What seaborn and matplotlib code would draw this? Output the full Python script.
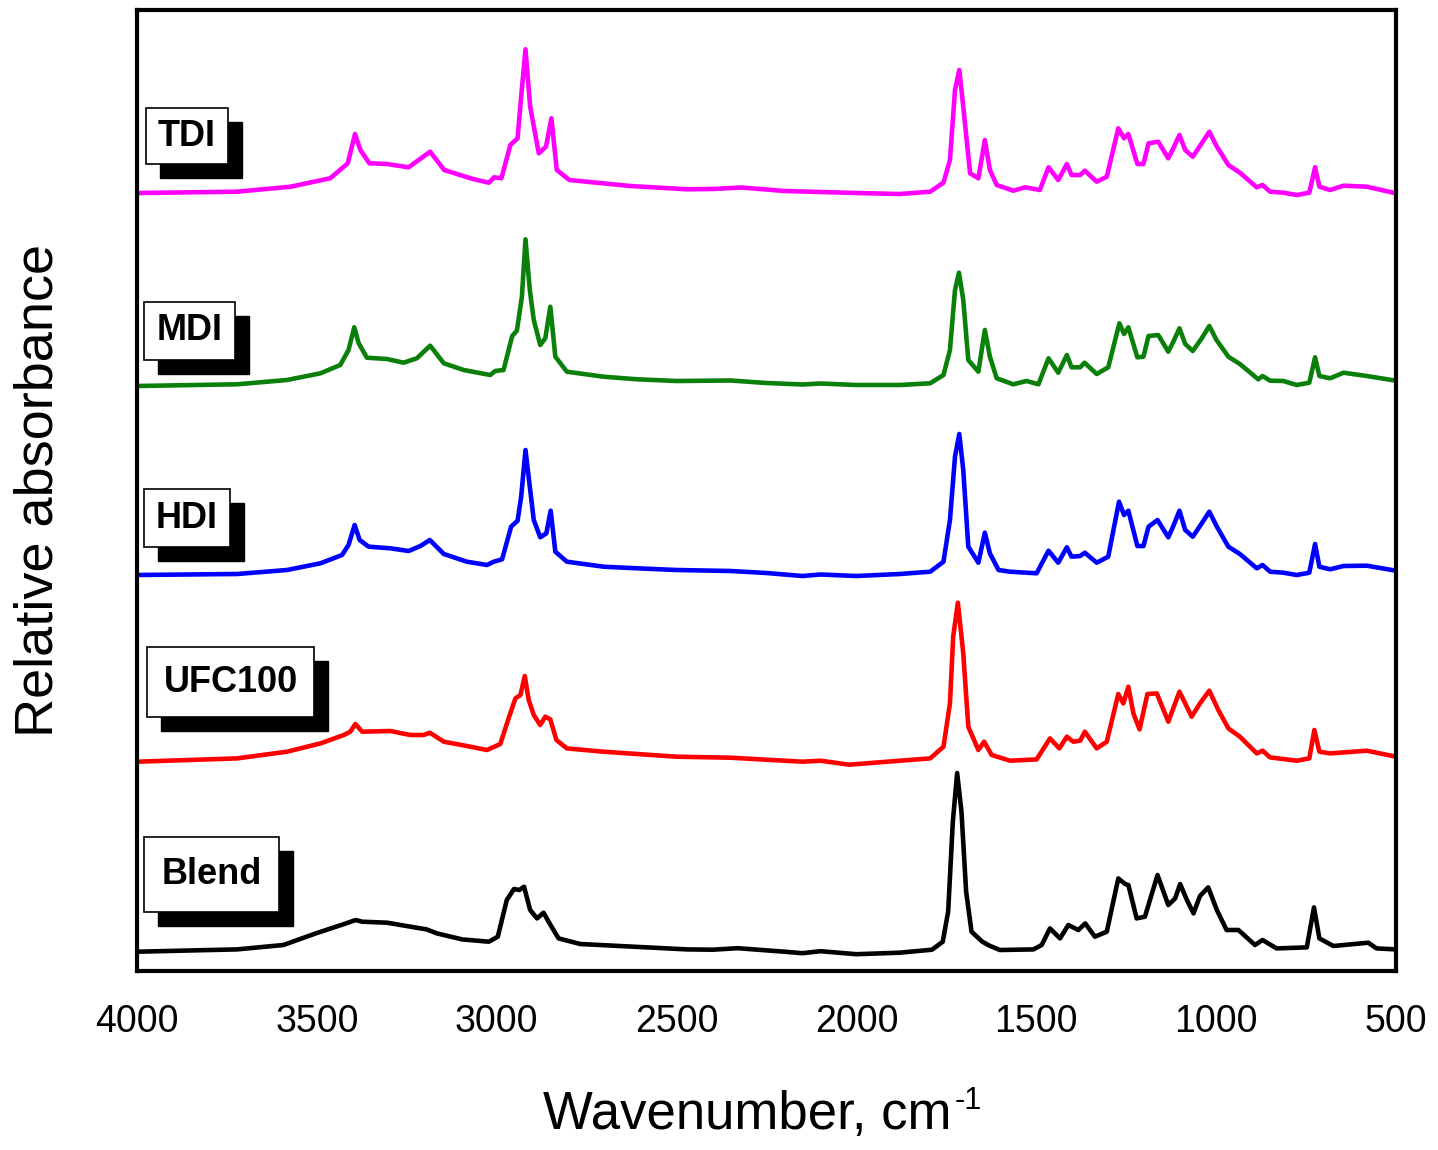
import numpy as np
import pandas as pd
import matplotlib
matplotlib.use("Agg")
import matplotlib.pyplot as plt
from matplotlib.patches import Rectangle
import seaborn as sns

# spectra: wavenumber (cm-1) and relative absorbance above each trace's baseline
wn_tdi = [4000, 3722, 3573, 3463, 3414, 3394, 3379, 3354, 3305, 3245, 3185, 3146, 3066, 3022, 3007, 2987,
          2962, 2942, 2932, 2920, 2907, 2883, 2863, 2848, 2833, 2798, 2629, 2471, 2400, 2320, 2200, 2100,
          2000, 1879, 1795, 1758, 1740, 1726, 1714, 1703, 1684, 1661, 1643, 1629, 1610, 1564, 1531, 1490,
          1466, 1439, 1415, 1402, 1378, 1365, 1332, 1304, 1272, 1256, 1244, 1219, 1202, 1188, 1161, 1133,
          1119, 1102, 1086, 1065, 1040, 1019, 999, 966, 934, 887, 871, 850, 813, 776, 741, 725, 713, 683,
          646, 581, 500]
abs_tdi = [0, 0.013, 0.063, 0.147, 0.297, 0.59, 0.43, 0.297, 0.29, 0.257, 0.413, 0.23, 0.14, 0.103, 0.157, 0.147,
           0.48, 0.547, 0.963, 1.437, 0.863, 0.397, 0.463, 0.747, 0.23, 0.13, 0.07, 0.037, 0.04, 0.055, 0.02, 0.01,
           0.0, -0.01, 0.013, 0.103, 0.33, 1.03, 1.23, 0.863, 0.197, 0.147, 0.53, 0.23, 0.08, 0.023, 0.057, 0.03,
           0.257, 0.13, 0.29, 0.18, 0.18, 0.223, 0.113, 0.163, 0.647, 0.547, 0.59, 0.29, 0.29, 0.497, 0.513, 0.347,
           0.447, 0.58, 0.43, 0.363, 0.497, 0.613, 0.47, 0.28, 0.203, 0.057, 0.08, 0.013, 0.003, -0.02, 0.003,
           0.257, 0.063, 0.03, 0.073, 0.063, -0.003]

wn_mdi = [4000, 3722, 3583, 3490, 3435, 3412, 3396, 3384, 3361, 3305, 3259, 3222, 3185, 3147, 3092, 3018,
          3004, 2981, 2957, 2944, 2930, 2920, 2908, 2897, 2879, 2865, 2851, 2837, 2805, 2703, 2610, 2500,
          2350, 2250, 2150, 2100, 2000, 1879, 1795, 1758, 1740, 1726, 1715, 1703, 1689, 1661, 1643, 1629,
          1610, 1564, 1527, 1494, 1466, 1439, 1415, 1402, 1378, 1366, 1332, 1300, 1269, 1256, 1244, 1219,
          1202, 1188, 1161, 1133, 1119, 1102, 1086, 1065, 1040, 1019, 999, 966, 934, 883, 871, 850, 813,
          776, 741, 725, 713, 683, 646, 581, 500]
abs_mdi = [0, 0.017, 0.06, 0.127, 0.21, 0.36, 0.587, 0.43, 0.283, 0.27, 0.233, 0.277, 0.403, 0.227, 0.16, 0.11,
           0.15, 0.16, 0.5, 0.553, 0.893, 1.467, 0.96, 0.66, 0.41, 0.477, 0.793, 0.293, 0.143, 0.093, 0.067, 0.05,
           0.055, 0.03, 0.015, 0.025, 0.01, 0.01, 0.027, 0.11, 0.36, 0.96, 1.133, 0.86, 0.26, 0.143, 0.56, 0.293,
           0.077, 0.017, 0.05, 0.017, 0.277, 0.133, 0.31, 0.187, 0.187, 0.233, 0.12, 0.187, 0.627, 0.52, 0.587, 0.287,
           0.293, 0.5, 0.51, 0.343, 0.443, 0.577, 0.42, 0.35, 0.477, 0.6, 0.46, 0.293, 0.22, 0.067, 0.1, 0.053, 0.05,
           0.01, 0.033, 0.287, 0.1, 0.077, 0.133, 0.1, 0.053]

wn_hdi = [4000, 3722, 3583, 3490, 3430, 3412, 3395, 3381, 3356, 3296, 3245, 3212, 3186, 3147, 3083, 3027,
          3008, 2985, 2960, 2942, 2932, 2920, 2908, 2897, 2879, 2862, 2850, 2837, 2805, 2703, 2610, 2500,
          2350, 2250, 2150, 2100, 2000, 1879, 1795, 1758, 1740, 1726, 1714, 1703, 1689, 1661, 1643, 1629,
          1605, 1573, 1499, 1466, 1439, 1415, 1402, 1378, 1365, 1332, 1300, 1270, 1256, 1244, 1219, 1202,
          1188, 1163, 1133, 1119, 1102, 1086, 1065, 1040, 1019, 999, 966, 934, 887, 871, 850, 813, 776, 741,
          725, 713, 683, 646, 581, 500]
abs_hdi = [0, 0.01, 0.05, 0.117, 0.2, 0.3, 0.5, 0.35, 0.283, 0.267, 0.24, 0.29, 0.35, 0.21, 0.133, 0.1,
           0.133, 0.157, 0.483, 0.543, 0.783, 1.25, 0.883, 0.55, 0.377, 0.417, 0.643, 0.233, 0.133, 0.083, 0.067, 0.05,
           0.04, 0.02, -0.01, 0.005, -0.01, 0.01, 0.033, 0.133, 0.55, 1.183, 1.41, 1.05, 0.283, 0.123, 0.423, 0.217,
           0.05, 0.033, 0.017, 0.243, 0.123, 0.277, 0.183, 0.19, 0.223, 0.123, 0.183, 0.733, 0.6, 0.643, 0.29, 0.29,
           0.483, 0.55, 0.377, 0.49, 0.643, 0.45, 0.383, 0.517, 0.633, 0.49, 0.283, 0.21, 0.067, 0.1, 0.033, 0.023, 0.0, 0.023,
           0.31, 0.083, 0.057, 0.09, 0.093, 0.043]

wn_ufc = [4000, 3722, 3583, 3490, 3425, 3407, 3393, 3374, 3296, 3240, 3203, 3186, 3147, 3073, 3027, 2990,
          2967, 2948, 2934, 2922, 2911, 2897, 2879, 2865, 2851, 2834, 2805, 2703, 2610, 2500, 2350, 2250,
          2150, 2100, 2020, 1950, 1879, 1795, 1758, 1740, 1731, 1718, 1703, 1689, 1661, 1645, 1624, 1573,
          1499, 1462, 1436, 1415, 1397, 1378, 1365, 1332, 1304, 1272, 1258, 1244, 1230, 1213, 1191, 1165,
          1133, 1102, 1068, 1045, 1019, 994, 966, 934, 887, 871, 850, 776, 741, 727, 713, 683, 581, 500]
abs_ufc = [0, 0.033, 0.1, 0.183, 0.267, 0.3, 0.377, 0.3, 0.307, 0.267, 0.267, 0.29, 0.2, 0.15, 0.117, 0.177,
           0.433, 0.633, 0.667, 0.857, 0.617, 0.467, 0.367, 0.45, 0.423, 0.217, 0.133, 0.1, 0.077, 0.05, 0.04, 0.02,
           0.0, 0.01, -0.03, -0.01, 0.01, 0.033, 0.15, 0.583, 1.25, 1.59, 1.083, 0.35, 0.117, 0.2, 0.067, 0.01,
           0.023, 0.233, 0.133, 0.25, 0.2, 0.21, 0.3, 0.133, 0.2, 0.677, 0.583, 0.75, 0.483, 0.323, 0.677, 0.683,
           0.4, 0.7, 0.45, 0.583, 0.71, 0.517, 0.333, 0.25, 0.083, 0.11, 0.043, 0.01, 0.033, 0.317, 0.1, 0.083, 0.11, 0.05]

wn_blend = [4000, 3722, 3593, 3503, 3424, 3392, 3374, 3305, 3195, 3166, 3096, 3022, 2997, 2972, 2952, 2937,
            2924, 2907, 2888, 2870, 2853, 2828, 2768, 2471, 2400, 2330, 2200, 2150, 2100, 2000, 1880, 1790,
            1760, 1745, 1732, 1720, 1708, 1695, 1680, 1650, 1630, 1601, 1508, 1485, 1462, 1434, 1411, 1383,
            1364, 1337, 1304, 1272, 1253, 1244, 1221, 1198, 1163, 1133, 1114, 1100, 1082, 1063, 1045, 1022,
            998, 971, 938, 892, 871, 832, 748, 728, 713, 674, 577, 554, 500]
abs_blend = [0, 0.023, 0.067, 0.183, 0.277, 0.317, 0.3, 0.29, 0.223, 0.183, 0.123, 0.1, 0.15, 0.517, 0.627, 0.617,
             0.65, 0.417, 0.333, 0.39, 0.283, 0.133, 0.077, 0.023, 0.02, 0.035, 0.0, -0.015, 0.005, -0.025, -0.01, 0.02,
             0.1, 0.4, 1.3, 1.787, 1.4, 0.6, 0.2, 0.1, 0.06, 0.017, 0.023, 0.067, 0.233, 0.133, 0.267, 0.217,
             0.283, 0.15, 0.2, 0.733, 0.677, 0.667, 0.333, 0.35, 0.767, 0.467, 0.533, 0.677, 0.523, 0.383, 0.557, 0.643,
             0.417, 0.217, 0.217, 0.067, 0.117, 0.033, 0.043, 0.443, 0.133, 0.057, 0.09, 0.033, 0.023]

samples = ["TDI", "MDI", "HDI", "UFC100", "Blend"]
offsets = [7.78, 5.85, 3.96, 2.093, 0.193]
colors = ["#FF00FF", "#0A800A", "#0000FF", "#FF0000", "#000000"]

spectra = {"TDI": (wn_tdi, abs_tdi), "MDI": (wn_mdi, abs_mdi), "HDI": (wn_hdi, abs_hdi),
           "UFC100": (wn_ufc, abs_ufc), "Blend": (wn_blend, abs_blend)}

frames = []
for name, off in zip(samples, offsets):
    w, a = spectra[name]
    frames.append(pd.DataFrame({"wavenumber": w, "absorbance": np.array(a) + off, "sample": name}))
df = pd.concat(frames, ignore_index=True)

sns.set_style("white")
plt.rcParams["font.family"] = ["Liberation Sans", "DejaVu Sans"]
plt.rcParams["text.color"] = "black"
plt.rcParams["axes.labelcolor"] = "black"
plt.rcParams["xtick.color"] = "black"

W, H = 1438, 1150
fig = plt.figure(figsize=(W / 100, H / 100), dpi=100)
ax = fig.add_axes([137 / W, 1 - 971 / H, (1396 - 137) / W, (971 - 10) / H])

sns.lineplot(data=df, x="wavenumber", y="absorbance", hue="sample", hue_order=samples,
             palette=colors, estimator=None, linewidth=3.3, legend=False, ax=ax)

ax.set_xlim(4000, 500)
ax.set_ylim(0, 9.61)
ax.set_xticks(range(500, 4001, 500))
ax.set_xticks(range(750, 4000, 500), minor=True)
ax.set_yticks([])
ax.tick_params(axis="x", which="major", direction="out", length=16, width=2.5, labelsize=27, pad=8)
ax.tick_params(axis="x", which="minor", direction="out", length=9, width=2.5)
for s in ax.spines.values():
    s.set_linewidth(3)
    s.set_color("black")
ax.set_xlabel("Wavenumber, cm", fontsize=38)
ax.xaxis.set_label_coords(0.485, -0.124)
ax.set_ylabel("Relative absorbance", fontsize=39, labelpad=53)

# label boxes with drop shadow (pixel positions, top-left origin)
box_px = [(146, 108, 228, 164), (144, 302, 235, 360), (144, 489, 230, 547),
          (147, 647, 314, 717), (144, 837, 279, 912)]
shadow = 14
for name, (x0, y0, x1, y1) in zip(samples, box_px):
    fig.add_artist(Rectangle(((x0 + shadow) / W, 1 - (y1 + shadow) / H), (x1 - x0) / W, (y1 - y0) / H,
                             transform=fig.transFigure, facecolor="black", edgecolor="black", zorder=5))
    fig.add_artist(Rectangle((x0 / W, 1 - y1 / H), (x1 - x0) / W, (y1 - y0) / H,
                             transform=fig.transFigure, facecolor="white", edgecolor="black",
                             linewidth=1.2, zorder=6))
    fig.text((x0 + x1) / 2 / W, 1 - (y0 + y1) / 2 / H, name, ha="center", va="center",
             fontsize=26, fontweight="bold", zorder=7)

# superscript "-1" after the axis label
fig.canvas.draw()
bb = ax.xaxis.label.get_window_extent()
fig.text((bb.x1 + 3) / W, (bb.y1 + 4) / H, "-1", fontsize=22, ha="left", va="top")

fig.savefig("out.png", dpi=100)
